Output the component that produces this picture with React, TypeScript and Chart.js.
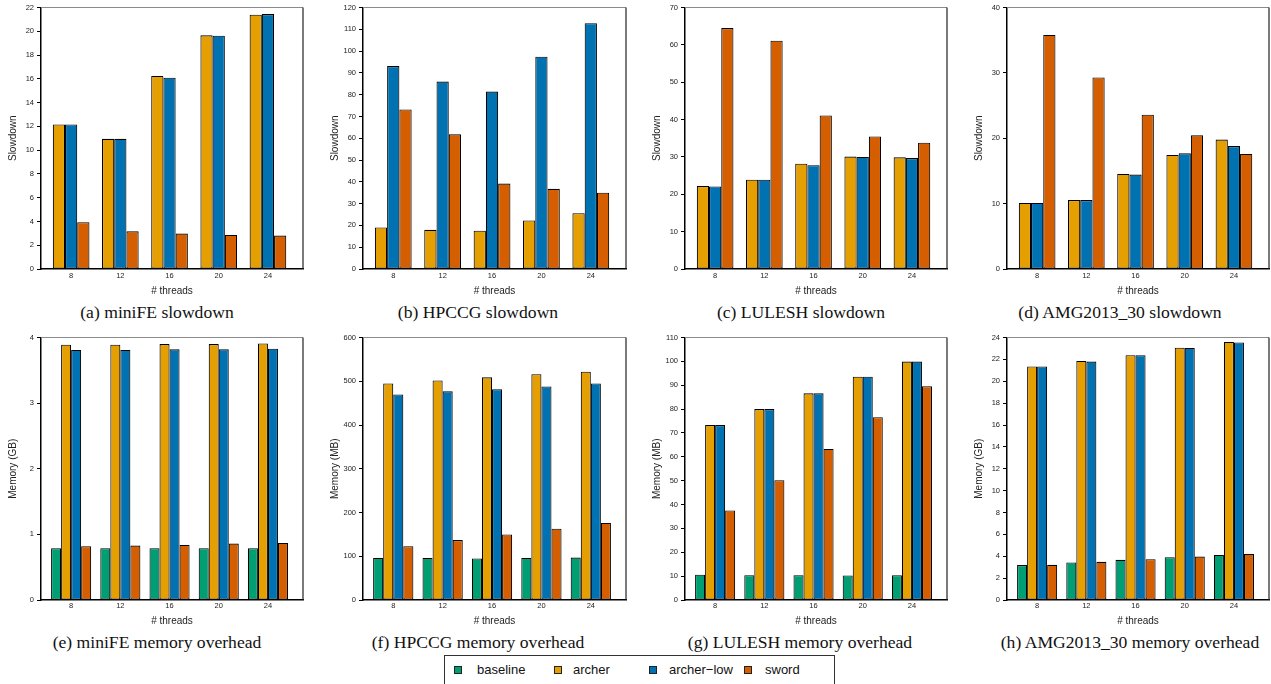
import React, { useEffect, useRef } from "react";
import { Chart, registerables } from "chart.js";

Chart.register(...registerables);

// ---------- data ----------
const threads = [8, 12, 16, 20, 24];

// (a) miniFE slowdown
const minifeSlowArcher = [12.16, 10.95, 16.24, 19.66, 21.4];
const minifeSlowArcherLow = [12.16, 10.95, 16.1, 19.63, 21.45];
const minifeSlowSword = [3.94, 3.17, 2.98, 2.87, 2.81];

// (b) HPCCG slowdown
const hpccgSlowArcher = [19.1, 18.0, 17.6, 22.3, 25.6];
const hpccgSlowArcherLow = [93.1, 86.0, 81.4, 97.4, 112.8];
const hpccgSlowSword = [73.2, 61.8, 39.2, 36.8, 35.0];

// (c) LULESH slowdown
const luleshSlowArcher = [22.2, 23.9, 28.2, 30.1, 29.9];
const luleshSlowArcherLow = [22.1, 23.9, 27.8, 30.0, 29.7];
const luleshSlowSword = [64.5, 61.1, 41.1, 35.5, 33.8];

// (d) AMG2013_30 slowdown
const amgSlowArcher = [10.1, 10.55, 14.55, 17.45, 19.8];
const amgSlowArcherLow = [10.1, 10.55, 14.45, 17.7, 18.8];
const amgSlowSword = [35.8, 29.3, 23.6, 20.45, 17.6];

// (e) miniFE memory (GB)
const minifeMemBaseline = [0.79, 0.79, 0.79, 0.79, 0.79];
const minifeMemArcher = [3.89, 3.89, 3.9, 3.9, 3.91];
const minifeMemArcherLow = [3.81, 3.81, 3.82, 3.82, 3.83];
const minifeMemSword = [0.82, 0.83, 0.84, 0.86, 0.87];

// (f) HPCCG memory (MB)
const hpccgMemBaseline = [96, 96, 95, 96, 97];
const hpccgMemArcher = [495, 502, 509, 516, 522];
const hpccgMemArcherLow = [470, 477, 482, 488, 495];
const hpccgMemSword = [123, 137, 150, 163, 176];

// (g) LULESH memory (MB)
const luleshMemBaseline = [10.6, 10.4, 10.4, 10.3, 10.4];
const luleshMemArcher = [73.3, 80.0, 86.6, 93.6, 99.9];
const luleshMemArcherLow = [73.3, 80.0, 86.6, 93.6, 99.9];
const luleshMemSword = [37.5, 50.2, 63.3, 76.6, 89.6];

// (h) AMG2013_30 memory (GB)
const amgMemBaseline = [3.19, 3.43, 3.67, 3.91, 4.12];
const amgMemArcher = [21.35, 21.86, 22.38, 23.07, 23.6];
const amgMemArcherLow = [21.35, 21.8, 22.38, 23.04, 23.55];
const amgMemSword = [3.22, 3.49, 3.73, 3.97, 4.21];

const legendLabels = ["baseline", "archer", "archer\u2212low", "sword"];
const seriesColors = ["#009E73", "#E69F00", "#0072B2", "#D55E00"];

const xAxisTitle = "# threads";

// ---------- layout ----------
const plotLefts = [41, 363, 685, 1007];
const plotRights = [303, 626, 947, 1269];
const FONT = "'Liberation Sans', Arial, Helvetica, sans-serif";

type Series = { idx: number; data: number[] };
type Panel = {
  caption: string;
  yTitle: string;
  yMax: number;
  yStep: number;
  series: Series[];
  row: number;
  col: number;
  captionX: number;
};

const panels: Panel[] = [
  {
    caption: "(a) miniFE slowdown", yTitle: "Slowdown", yMax: 22, yStep: 2, row: 0, col: 0, captionX: 157,
    series: [{ idx: 1, data: minifeSlowArcher }, { idx: 2, data: minifeSlowArcherLow }, { idx: 3, data: minifeSlowSword }],
  },
  {
    caption: "(b) HPCCG slowdown", yTitle: "Slowdown", yMax: 120, yStep: 10, row: 0, col: 1, captionX: 478,
    series: [{ idx: 1, data: hpccgSlowArcher }, { idx: 2, data: hpccgSlowArcherLow }, { idx: 3, data: hpccgSlowSword }],
  },
  {
    caption: "(c) LULESH slowdown", yTitle: "Slowdown", yMax: 70, yStep: 10, row: 0, col: 2, captionX: 801,
    series: [{ idx: 1, data: luleshSlowArcher }, { idx: 2, data: luleshSlowArcherLow }, { idx: 3, data: luleshSlowSword }],
  },
  {
    caption: "(d) AMG2013_30 slowdown", yTitle: "Slowdown", yMax: 40, yStep: 10, row: 0, col: 3, captionX: 1120,
    series: [{ idx: 1, data: amgSlowArcher }, { idx: 2, data: amgSlowArcherLow }, { idx: 3, data: amgSlowSword }],
  },
  {
    caption: "(e) miniFE memory overhead", yTitle: "Memory (GB)", yMax: 4, yStep: 1, row: 1, col: 0, captionX: 157,
    series: [{ idx: 0, data: minifeMemBaseline }, { idx: 1, data: minifeMemArcher }, { idx: 2, data: minifeMemArcherLow }, { idx: 3, data: minifeMemSword }],
  },
  {
    caption: "(f) HPCCG memory overhead", yTitle: "Memory (MB)", yMax: 600, yStep: 100, row: 1, col: 1, captionX: 478,
    series: [{ idx: 0, data: hpccgMemBaseline }, { idx: 1, data: hpccgMemArcher }, { idx: 2, data: hpccgMemArcherLow }, { idx: 3, data: hpccgMemSword }],
  },
  {
    caption: "(g) LULESH memory overhead", yTitle: "Memory (MB)", yMax: 110, yStep: 10, row: 1, col: 2, captionX: 800,
    series: [{ idx: 0, data: luleshMemBaseline }, { idx: 1, data: luleshMemArcher }, { idx: 2, data: luleshMemArcherLow }, { idx: 3, data: luleshMemSword }],
  },
  {
    caption: "(h) AMG2013_30 memory overhead", yTitle: "Memory (GB)", yMax: 24, yStep: 2, row: 1, col: 3, captionX: 1130,
    series: [{ idx: 0, data: amgMemBaseline }, { idx: 1, data: amgMemArcher }, { idx: 2, data: amgMemArcherLow }, { idx: 3, data: amgMemSword }],
  },
];

const framePlugin = {
  id: "frame",
  afterDraw(chart: any) {
    const { ctx, chartArea } = chart;
    ctx.save();
    ctx.strokeStyle = "#8a8a8a";
    ctx.lineWidth = 1.2;
    ctx.beginPath();
    ctx.moveTo(chartArea.left, chartArea.top);
    ctx.lineTo(chartArea.right, chartArea.top);
    ctx.stroke();
    ctx.strokeStyle = "#222";
    ctx.lineWidth = 1.2;
    ctx.beginPath();
    ctx.moveTo(chartArea.right, chartArea.top);
    ctx.lineTo(chartArea.right, chartArea.bottom);
    ctx.stroke();
    ctx.restore();
  },
};

function PanelChart({ p }: { p: Panel }) {
  const ref = useRef<HTMLCanvasElement>(null);
  const left = plotLefts[p.col] - 41;
  const width = plotRights[p.col] - plotLefts[p.col] + 41 + 2;
  const top = p.row === 0 ? 0 : 330;
  const height = 300;
  const padTop = p.row === 0 ? 3 : 4;
  const xAxisH = p.row === 0 ? 31 : 30;
  const nSeries = p.series.length;
  const catPct = nSeries === 3 ? 0.745 : 0.815;

  useEffect(() => {
    if (!ref.current) return;
    const chart = new Chart(ref.current, {
      type: "bar",
      data: {
        datasets: p.series.map((s) => ({
          label: legendLabels[s.idx],
          data: threads.map((t, i) => ({ x: t, y: s.data[i] })),
          backgroundColor: seriesColors[s.idx],
          borderColor: "#000",
          borderWidth: 1.1,
          borderSkipped: false,
          categoryPercentage: catPct,
          barPercentage: 1,
        })),
      },
      options: {
        animation: false,
        responsive: false,
        maintainAspectRatio: false,
        layout: { autoPadding: false, padding: { top: padTop, right: 2, left: 0, bottom: 0 } },
        plugins: { legend: { display: false }, tooltip: { enabled: false } },
        scales: {
          x: {
            type: "linear",
            min: 5.55,
            max: 26.85,
            offset: false,
            afterBuildTicks: (scale: any) => {
              scale.ticks = threads.map((v) => ({ value: v }));
            },
            afterFit: (scale: any) => {
              scale.height = xAxisH;
            },
            grid: { display: false, drawTicks: false },
            border: { display: true, color: "#000", width: 1.5 },
            ticks: {
              padding: p.row === 0 ? 2.5 : 1.5,
              color: "#222",
              font: { family: FONT, size: 7.5 },
              maxRotation: 0,
              autoSkip: false,
              callback: (v: any) => String(v),
            },
            title: {
              display: true,
              text: xAxisTitle,
              color: "#222",
              font: { family: FONT, size: 10 },
              padding: { top: 0, bottom: 2.3 },
            },
          },
          y: {
            min: 0,
            max: p.yMax,
            afterFit: (scale: any) => {
              scale.width = 41;
            },
            grid: { drawOnChartArea: false, drawTicks: true, tickLength: 4, color: "#000" },
            border: { display: true, color: "#000", width: 1.5 },
            ticks: {
              stepSize: p.yStep,
              padding: 3,
              color: "#222",
              font: { family: FONT, size: 7.5 },
            },
            title: {
              display: true,
              text: p.yTitle,
              color: "#222",
              font: { family: FONT, size: 10 },
              padding: { top: 7, bottom: 0 },
            },
          },
        },
      },
      plugins: [framePlugin],
    } as any);
    return () => chart.destroy();
  }, []);

  return (
    <>
      <canvas
        ref={ref}
        width={width}
        height={height}
        style={{ position: "absolute", left, top, width, height }}
      />
      <div
        style={{
          position: "absolute",
          left: p.captionX - 200,
          width: 400,
          top: p.row === 0 ? 302 : 632,
          textAlign: "center",
          fontFamily: "'Liberation Serif', 'Times New Roman', serif",
          fontSize: 17.6,
          lineHeight: "20px",
          color: "#111",
          whiteSpace: "nowrap",
        }}
      >
        {p.caption}
      </div>
    </>
  );
}

const legendMarkerX = [458, 558, 653, 748];
const legendTextX = [477, 573, 669, 765];

export default function App() {
  return (
    <div
      style={{
        position: "absolute",
        left: 0,
        top: 0,
        width: 1271,
        height: 684,
        overflow: "hidden",
        background: "#fff",
      }}
    >
      {panels.map((p, i) => (
        <PanelChart key={i} p={p} />
      ))}
      <div
        style={{
          position: "absolute",
          left: 444,
          top: 655,
          width: 391,
          height: 40,
          border: "1px solid #333",
          boxSizing: "border-box",
        }}
      />
      {legendLabels.map((l, i) => (
        <React.Fragment key={l}>
          <div
            style={{
              position: "absolute",
              left: legendMarkerX[i] - 4,
              top: 666,
              width: 8,
              height: 8,
              boxSizing: "border-box",
              background: seriesColors[i],
              border: "1px solid #222",
            }}
          />
          <div
            style={{
              position: "absolute",
              left: legendTextX[i],
              top: 662,
              fontFamily: FONT,
              fontSize: 13,
              lineHeight: "16px",
              color: "#111",
              whiteSpace: "nowrap",
            }}
          >
            {l}
          </div>
        </React.Fragment>
      ))}
    </div>
  );
}
